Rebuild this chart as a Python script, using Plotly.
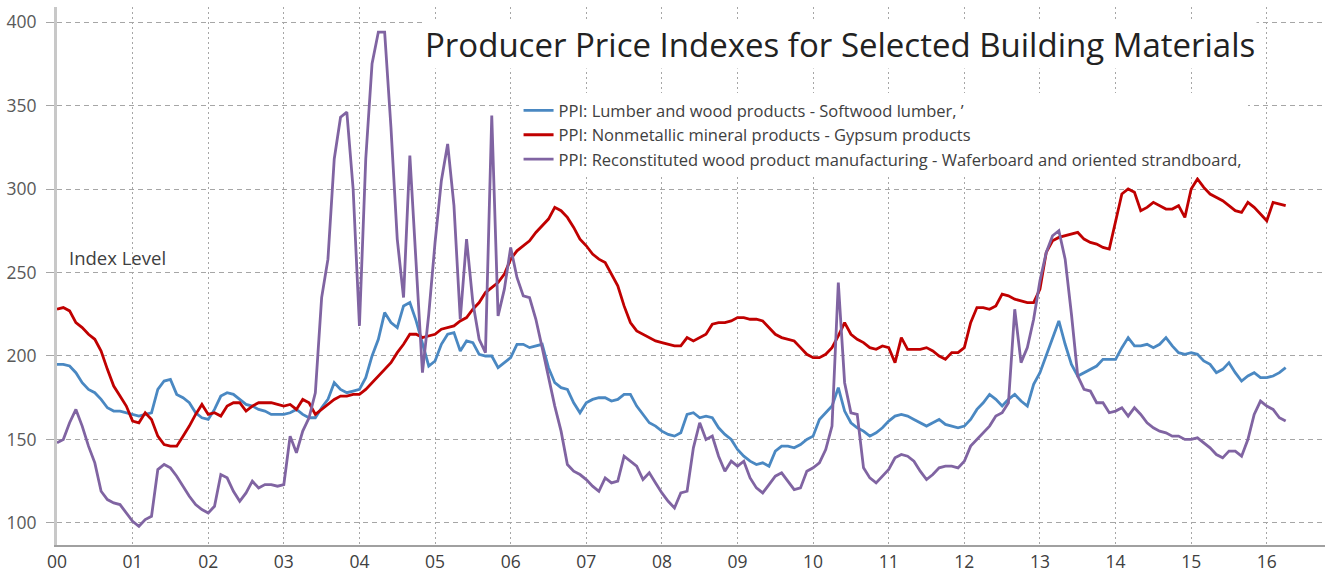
import plotly.graph_objects as go

# Monthly index values, Jan 2000 .. Apr 2016
softwood = [
    195, 195, 194, 190, 184, 180, 178, 174, 169, 167, 167, 166,   # 2000
    165, 164, 165, 166, 180, 185, 186, 177, 175, 172, 166, 163,   # 2001
    162, 168, 176, 178, 177, 174, 171, 170, 168, 167, 165, 165,   # 2002
    165, 166, 168, 165, 163, 163, 169, 174, 184, 180, 178, 179,   # 2003
    180, 187, 200, 210, 226, 220, 217, 230, 232, 221, 208, 194,   # 2004
    197, 207, 213, 214, 203, 209, 208, 201, 200, 200, 193, 196,   # 2005
    199, 207, 207, 205, 206, 207, 193, 184, 181, 180, 172, 166,   # 2006
    172, 174, 175, 175, 173, 174, 177, 177, 170, 165, 160, 158,   # 2007
    155, 153, 152, 154, 165, 166, 163, 164, 163, 157, 153, 150,   # 2008
    144, 140, 137, 135, 136, 134, 143, 146, 146, 145, 147, 150,   # 2009
    152, 162, 166, 170, 181, 167, 160, 157, 155, 152, 154, 157,   # 2010
    161, 164, 165, 164, 162, 160, 158, 160, 162, 159, 158, 157,   # 2011
    158, 162, 168, 172, 177, 174, 170, 174, 177, 173, 170, 183,   # 2012
    190, 200, 210, 221, 207, 195, 188, 190, 192, 194, 198, 198,   # 2013
    198, 205, 211, 206, 206, 207, 205, 207, 211, 206, 202, 201,   # 2014
    202, 201, 197, 195, 190, 192, 196, 190, 185, 188, 190, 187,   # 2015
    187, 188, 190, 193,                                           # 2016
]

gypsum = [
    228, 229, 227, 220, 217, 213, 210, 203, 192, 182, 176, 170,   # 2000
    161, 160, 166, 162, 152, 147, 146, 146, 152, 158, 165, 171,   # 2001
    165, 166, 164, 170, 172, 172, 167, 170, 172, 172, 172, 171,   # 2002
    170, 171, 168, 174, 172, 165, 168, 171, 174, 176, 176, 177,   # 2003
    177, 180, 184, 188, 192, 196, 202, 207, 213, 213, 211, 212,   # 2004
    213, 216, 217, 218, 221, 223, 228, 232, 238, 241, 244, 249,   # 2005
    258, 263, 266, 269, 274, 278, 282, 289, 287, 283, 277, 270,   # 2006
    266, 261, 258, 256, 249, 242, 230, 220, 215, 213, 211, 209,   # 2007
    208, 207, 206, 206, 211, 209, 211, 213, 219, 220, 220, 221,   # 2008
    223, 223, 222, 222, 221, 217, 213, 211, 210, 209, 205, 201,   # 2009
    199, 199, 201, 205, 212, 220, 213, 210, 208, 205, 204, 206,   # 2010
    205, 196, 211, 204, 204, 204, 205, 203, 200, 198, 202, 202,   # 2011
    205, 220, 229, 229, 228, 230, 237, 236, 234, 233, 232, 232,   # 2012
    240, 262, 269, 271, 272, 273, 274, 270, 268, 267, 265, 264,   # 2013
    280, 297, 300, 298, 287, 289, 292, 290, 288, 288, 290, 283,   # 2014
    300, 306, 301, 297, 295, 293, 290, 287, 286, 292, 289, 285,   # 2015
    281, 292, 291, 290,                                           # 2016
]

osb = [
    148, 150, 160, 168, 158, 146, 136, 119, 114, 112, 111, 106,   # 2000
    101, 98, 102, 104, 132, 135, 133, 128, 122, 116, 111, 108,    # 2001
    106, 110, 129, 127, 119, 113, 118, 125, 121, 123, 123, 122,   # 2002
    123, 152, 142, 155, 163, 178, 235, 258, 318, 343, 346, 300,   # 2003
    218, 318, 375, 394, 394, 337, 270, 235, 320, 255, 190, 225,   # 2004
    268, 305, 327, 290, 222, 270, 232, 210, 202, 344, 224, 240,   # 2005
    265, 247, 236, 235, 222, 205, 187, 170, 155, 135, 131, 129,   # 2006
    126, 122, 119, 127, 124, 125, 140, 137, 134, 126, 130, 124,   # 2007
    118, 113, 109, 118, 119, 145, 160, 150, 152, 140, 131, 137,   # 2008
    134, 137, 127, 121, 118, 123, 128, 130, 125, 120, 121, 131,   # 2009
    133, 136, 144, 158, 244, 184, 166, 165, 133, 127, 124, 128,   # 2010
    132, 139, 141, 140, 137, 131, 126, 129, 133, 134, 134, 133,   # 2011
    137, 146, 150, 154, 158, 164, 166, 172, 228, 196, 205, 222,   # 2012
    245, 262, 272, 275, 258, 225, 188, 180, 179, 172, 172, 166,   # 2013
    167, 169, 164, 169, 165, 160, 157, 155, 154, 152, 152, 150,   # 2014
    150, 151, 148, 145, 141, 139, 143, 143, 140, 150, 165, 173,   # 2015
    170, 168, 163, 161,                                           # 2016
]

dates = [2000 + i / 12 for i in range(len(softwood))]

year_ticks = list(range(2000, 2017))
year_labels = ["%02d" % (y - 2000) for y in year_ticks]
y_ticks = [100, 150, 200, 250, 300, 350, 400]

names = [
    "PPI: Lumber and wood products - Softwood lumber, \u2019",
    "PPI: Nonmetallic mineral products - Gypsum products",
    "PPI: Reconstituted wood product manufacturing - Waferboard and oriented strandboard,",
]
colors = ["#4a88c2", "#c00000", "#8064a2"]

FONT = "Open Sans"

fig = go.Figure()
for vals, name, col in zip([softwood, gypsum, osb], names, colors):
    fig.add_trace(go.Scatter(
        x=dates, y=vals, mode="lines", name=name,
        line=dict(color=col, width=2.8),
    ))

fig.update_layout(
    width=1332, height=576,
    margin=dict(l=57, r=7, t=7, b=31, autoexpand=False),
    paper_bgcolor="white", plot_bgcolor="white",
    font=dict(family=FONT, color="#595959", size=16),
    showlegend=True,
    legend=dict(
        x=0.364, y=0.84, xanchor="left", yanchor="top",
        bgcolor="white", borderwidth=0,
        font=dict(family=FONT, size=16.5, color="#404040"),
        tracegroupgap=0,
    ),
    xaxis=dict(
        range=[2000, 2016.77],
        tickmode="array", tickvals=year_ticks, ticktext=year_labels,
        showgrid=True, gridcolor="#a6a6a6", gridwidth=1.2, griddash="2px,3px",
        showline=True, linecolor="#a0a0a0", linewidth=2,
        ticks="", zeroline=False, automargin=False,
        tickfont=dict(family=FONT, size=17.5, color="#404040"),
    ),
    yaxis=dict(
        range=[86.8, 409],
        tickmode="array", tickvals=y_ticks,
        showgrid=True, gridcolor="#a6a6a6", gridwidth=1.2, griddash="5px,4px",
        showline=True, linecolor="#c8c8c8", linewidth=3,
        ticks="outside", ticklen=8, tickcolor="#a6a6a6", tickwidth=1.2,
        ticklabelstandoff=6, automargin=False,
        zeroline=False,
        tickfont=dict(family=FONT, size=17.5, color="#595959"),
    ),
)

fig.add_annotation(
    text="Producer Price Indexes for Selected Building Materials",
    xref="paper", yref="paper", x=0.6175, y=0.93,
    xanchor="center", yanchor="middle", showarrow=False,
    font=dict(family=FONT, size=33, color="#222222"),
    bgcolor="white",
)
fig.add_annotation(
    text="Index Level",
    xref="paper", yref="paper", x=0.008, y=0.535,
    xanchor="left", yanchor="middle", showarrow=False,
    font=dict(family=FONT, size=18.5, color="#404040"),
)

fig.write_html(
    "out.html",
    config={"displayModeBar": False},
    post_script="document.body.style.margin='0';",
)
